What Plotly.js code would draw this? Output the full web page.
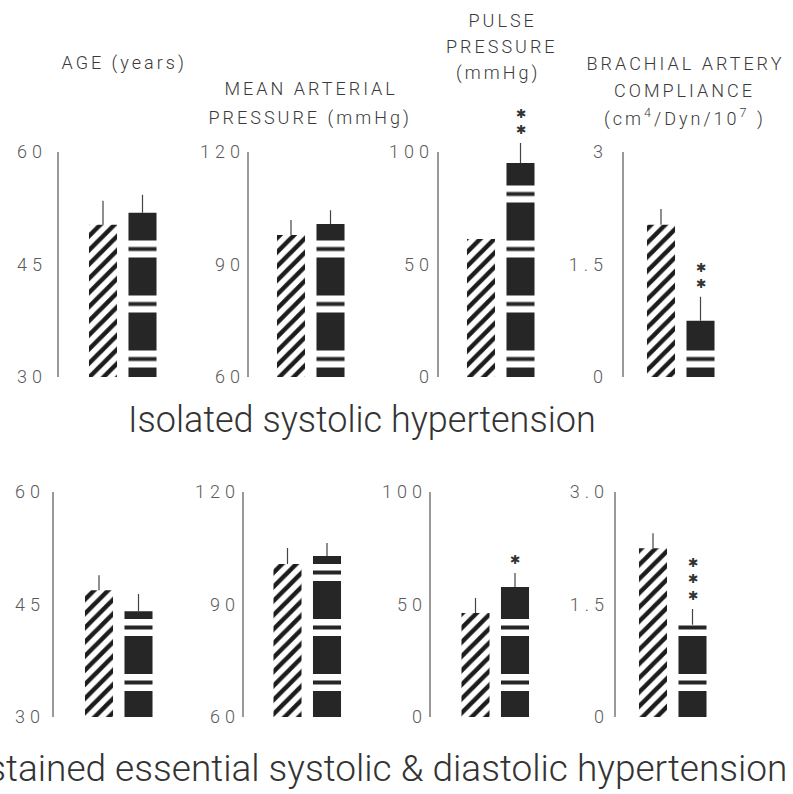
<!DOCTYPE html>
<html><head><meta charset="utf-8">
<script src="https://cdn.plot.ly/plotly-3.0.1.min.js"></script>
<style>
html,body{margin:0;padding:0;background:#fff;}
#chart{width:793px;height:794px;}
</style>
</head><body><div id="chart"></div>
<script>
// ---------------- data ----------------
const measureMin = [30, 60, 0, 0];
const measureMax = [60, 120, 100, 3];
const tickTextTop = [['30','45','60'], ['60','90','120'], ['0','50','100'], ['0','1.5','3']];
const tickTextBottom = [['30','45','60'], ['60','90','120'], ['0','50','100'], ['0','1.5','3.0']];

// Isolated systolic hypertension (top row)
const ishControl      = [50.3, 97.9, 61.3, 2.03];
const ishControlErr   = [3.2, 4.0, 0, 0.21];
const ishPatients     = [51.9, 100.8, 95.1, 0.75];
const ishPatientsErr  = [2.4, 3.7, 8.9, 0.32];
const ishStars        = [0, 0, 2, 2];

// Sustained essential systolic & diastolic hypertension (bottom row)
const sehControl      = [46.9, 100.8, 46.2, 2.25];
const sehControlErr   = [2.0, 4.3, 6.7, 0.20];
const sehPatients     = [44.1, 102.9, 57.8, 1.23];
const sehPatientsErr  = [2.3, 3.5, 6.2, 0.21];
const sehStars        = [0, 0, 1, 3];

const titleLines = [
  ['AGE (years)'],
  ['MEAN ARTERIAL', 'PRESSURE (mmHg)'],
  ['PULSE', 'PRESSURE', '(mmHg)'],
  ['BRACHIAL ARTERY', 'COMPLIANCE', '(cm<sup>4</sup>/Dyn/10<sup>7</sup> )']
];
const groupTitles = ['Isolated systolic hypertension',
                     'Sustained essential systolic & diastolic hypertension'];

// ---------------- layout geometry (pixels) ----------------
const W = 793, H = 794;
const rows = [
  {top: 111.5, minPx: 377, maxPx: 152, axisX: [58, 248, 438, 623], barOff: [45, 43, 43, 38],
   standoff: [10, 2, 3, 14], ctrl: ishControl, ctrlErr: ishControlErr, pat: ishPatients,
   patErr: ishPatientsErr, stars: ishStars, ticks: tickTextTop},
  {top: 490, minPx: 717, maxPx: 492, axisX: [53, 243, 430, 615], barOff: [46, 44.5, 45.5, 38],
   standoff: [7, 2, 2, 5], ctrl: sehControl, ctrlErr: sehControlErr, pat: sehPatients,
   patErr: sehPatientsErr, stars: sehStars, ticks: tickTextBottom}
];
const titlePos = [
  [[124, 63]],
  [[311, 88], [310, 118]],
  [[502, 20], [502, 47], [498, 73]],
  [[685, 63], [684, 90], [685, 117]]
];
const groupTitlePos = [{x: 362, y: 420, anchor: 'center', size: 36},
                       {x: 789, y: 768, anchor: 'right', size: 37}];

const pxPerCat = 39.5;
const barW = 0.71;
const dark = '#262626';
const errStyle = {width: 0, thickness: 1.2, color: '#444'};
const lightFont = 'Roboto, "Liberation Sans", Arial, sans-serif';

const traces = [];
const layout = {
  width: W, height: H,
  margin: {l: 0, r: 0, t: 0, b: 0, pad: 0},
  paper_bgcolor: '#fff', plot_bgcolor: 'rgba(0,0,0,0)',
  showlegend: false, barmode: 'overlay',
  shapes: [], annotations: []
};

// titles first (indices known for letter-spacing css)
const titleIdx = [];
titleLines.forEach((lines, p) => {
  lines.forEach((t, k) => {
    titleIdx.push(layout.annotations.length);
    layout.annotations.push({
      xref: 'paper', yref: 'paper', x: titlePos[p][k][0] / W, y: 1 - titlePos[p][k][1] / H,
      xanchor: 'center', yanchor: 'middle', showarrow: false, text: t,
      font: {family: lightFont, size: 18, color: '#3a3a3a', weight: 300}
    });
  });
});
groupTitles.forEach((t, r) => {
  const g = groupTitlePos[r];
  layout.annotations.push({
    xref: 'paper', yref: 'paper', x: g.x / W, y: 1 - g.y / H,
    xanchor: g.anchor, yanchor: 'middle', showarrow: false, text: t,
    font: {family: lightFont, size: g.size, color: '#333', weight: 300}
  });
});

rows.forEach((row, r) => {
  for (let p = 0; p < 4; p++) {
    const n = r * 4 + p + 1;
    const xid = n === 1 ? 'x' : 'x' + n;
    const yid = n === 1 ? 'y' : 'y' + n;
    const xname = n === 1 ? 'xaxis' : 'xaxis' + n;
    const yname = n === 1 ? 'yaxis' : 'yaxis' + n;
    const mn = measureMin[p], mx = measureMax[p];
    const pxPerUnit = (row.minPx - row.maxPx) / (mx - mn);
    const rangeTop = mn + (row.minPx - row.top) / pxPerUnit;
    const off = row.barOff[p];
    const x0 = row.axisX[p];
    const xspan = off + 1.6 * pxPerCat;

    layout[xname] = {domain: [x0 / W, (x0 + xspan) / W], range: [-off / pxPerCat, 1.6],
      visible: false, fixedrange: true, anchor: yid};
    layout[yname] = {domain: [1 - row.minPx / H, 1 - row.top / H], range: [mn, rangeTop],
      anchor: xid, showgrid: false, zeroline: false, showline: false, ticks: '',
      tickvals: [mn, (mn + mx) / 2, mx], ticktext: row.ticks[p],
      ticklabelstandoff: row.standoff[p],
      tickfont: {family: lightFont, size: 18, color: '#5a5a5a', weight: 300}, fixedrange: true};

    // vertical axis line from min to max
    layout.shapes.push({type: 'line', xref: xid + ' domain', yref: yid, x0: 0, x1: 0,
      y0: mn, y1: mx, line: {color: '#555', width: 1.2}});

    // control: hatched bar
    traces.push({type: 'bar', xaxis: xid, yaxis: yid, x: [0], y: [row.ctrl[p]], width: barW,
      marker: {color: '#fff', line: {width: 0},
        pattern: {shape: '/', fgcolor: '#1c1c1c', bgcolor: '#fff', size: 10, solidity: 0.45}},
      error_y: Object.assign({type: 'data', symmetric: false, array: [row.ctrlErr[p]], arrayminus: [0]}, errStyle),
      hoverinfo: 'y'});
    // patients: dark bar with white bands
    traces.push({type: 'bar', xaxis: xid, yaxis: yid, x: [1], y: [row.pat[p]], width: barW,
      marker: {color: dark, line: {width: 0},
        pattern: {shape: '-', fgcolor: '#fff', bgcolor: dark, size: 55, solidity: 0.31}},
      error_y: Object.assign({type: 'data', symmetric: false, array: [row.patErr[p]], arrayminus: [0]}, errStyle),
      hoverinfo: 'y'});
    // thin dark line inside each white band
    traces.push({type: 'bar', xaxis: xid, yaxis: yid, x: [1], y: [row.pat[p]], width: barW,
      marker: {color: 'rgba(0,0,0,0)', line: {width: 0},
        pattern: {shape: '-', fgcolor: dark, size: 55, solidity: 0.075}},
      hoverinfo: 'skip'});

    // significance stars (stacked asterisks)
    if (row.stars[p] > 0) {
      layout.annotations.push({xref: xid, yref: yid, x: 1, y: row.pat[p] + row.patErr[p],
        text: Array(row.stars[p]).fill('\u2731').join('<br>'), showarrow: false,
        xanchor: 'center', yanchor: 'bottom', yshift: 4,
        font: {family: '"DejaVu Sans", sans-serif', size: 12.5, color: '#333'}});
    }
  }
});

// letter spacing like the original lettering
let css = 'g[class^="y"][class$="tick"] text{letter-spacing:5px;}';
titleIdx.forEach(i => { css += '.annotation[data-index="' + i + '"] text{letter-spacing:3px;}'; });
const st = document.createElement('style'); st.textContent = css; document.head.appendChild(st);

Plotly.newPlot('chart', traces, layout, {staticPlot: true, displayModeBar: false});
</script>
</body></html>
